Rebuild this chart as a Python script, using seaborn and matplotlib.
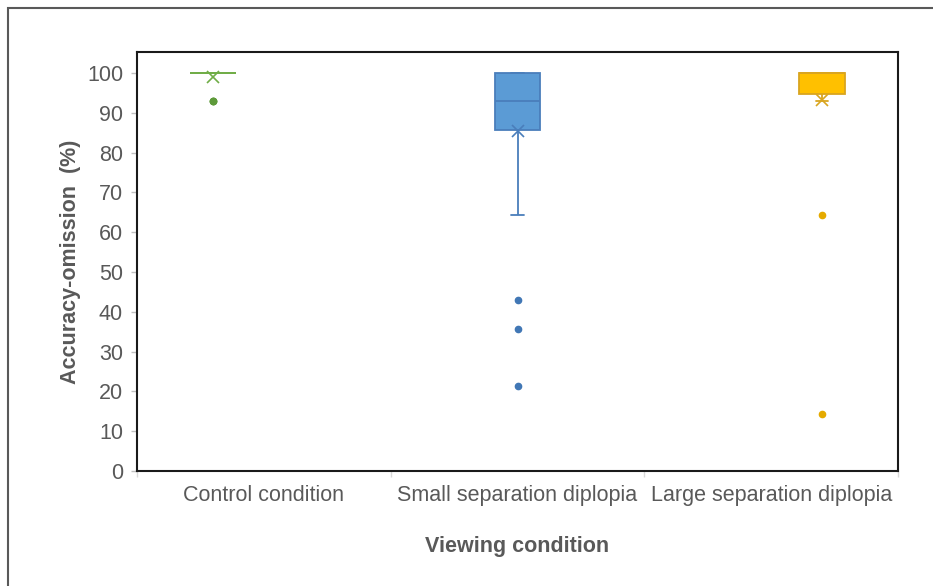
import numpy as np
import pandas as pd
import seaborn as sns
import matplotlib
matplotlib.use("Agg")
import matplotlib.pyplot as plt
from matplotlib.patches import Rectangle

# ---- data (accuracy-omission, %) ----
conditions = ["Control condition", "Small separation diplopia", "Large separation diplopia"]
control_vals = [92.9] * 3 + [100.0] * 19
small_vals = [21.4, 35.7, 42.9, 64.3] + [85.7] * 3 + [92.9] * 6 + [100.0] * 9
large_vals = [14.3, 64.3] + [92.9] * 4 + [100.0] * 16
yticks = list(range(0, 101, 10))

fills = ["#70AD47", "#5B9BD5", "#FFC000"]
lines = ["#70AD47", "#4A7EBB", "#D9A520"]
dots = ["#5E9A3A", "#4177B5", "#E5AA00"]

df = pd.DataFrame({
    "cond": [conditions[0]] * len(control_vals) + [conditions[1]] * len(small_vals)
            + [conditions[2]] * len(large_vals),
    "val": control_vals + small_vals + large_vals,
})

sns.set_theme(style="white")
plt.rcParams["font.family"] = ["Liberation Sans", "DejaVu Sans"]
text_col = "#595959"

fig = plt.figure(figsize=(9.33, 5.86), dpi=100)
ax = fig.add_axes([137 / 933, 1 - 471 / 586, (898 - 137) / 933, (471 - 52) / 586])

sns.boxplot(data=df, x="cond", y="val", hue="cond", order=conditions, hue_order=conditions,
            dodge=True, width=0.6, gap=0.1, palette=fills, legend=False,
            showmeans=True, whis=1.5, capwidths=0.05, ax=ax)

for i, cont in enumerate(ax.containers):
    lc, fc, dc = lines[i], fills[i], dots[i]
    for b in cont.boxes:
        b.set_facecolor(fc)
        b.set_edgecolor(lc)
        b.set_linewidth(1.3)
    for m in cont.medians:
        m.set_color(lc)
        m.set_linewidth(1.3)
    for w in list(cont.whiskers) + list(cont.caps):
        w.set_color(lc)
        w.set_linewidth(1.3)
    for f in cont.fliers:
        f.set_marker("o")
        f.set_markerfacecolor(dc)
        f.set_markeredgecolor(dc)
        f.set_markersize(4.5)
    for mn in cont.means:
        mn.set_marker("x")
        mn.set_markerfacecolor(lc)
        mn.set_markeredgecolor(lc)
        mn.set_markersize(8)
        mn.set_markeredgewidth(1.2)

ax.set_xlim(-0.5, 2.5)
ax.set_ylim(0, 105.3)
ax.set_yticks(yticks)
ax.set_yticklabels([str(t) for t in yticks])
ax.set_xticks(range(3))
ax.set_xticklabels(conditions)
ax.set_xticks([-0.5, 0.5, 1.5, 2.5], minor=True)

ax.tick_params(axis="y", which="major", length=4, width=1, color="#BFBFBF", left=True,
               labelsize=15.5, labelcolor=text_col, pad=6)
ax.tick_params(axis="x", which="major", length=0, labelsize=15.5, labelcolor=text_col, pad=10)
ax.tick_params(axis="x", which="minor", length=4, width=1, color="#D9D9D9", bottom=True)

for s in ax.spines.values():
    s.set_visible(True)
    s.set_color("#1A1A1A")
    s.set_linewidth(1.5)

ax.set_xlabel("Viewing condition", fontsize=15.5, fontweight="bold", color=text_col, labelpad=22)
ax.set_ylabel("Accuracy-omission  (%)", fontsize=15.5, fontweight="bold", color=text_col, labelpad=4)

# outer frame clipped by the image edges
fig.patches.append(Rectangle((8 / 933, -0.5), 2.0, 0.5 + 1 - 8 / 586, transform=fig.transFigure,
                             fill=False, edgecolor="#595959", linewidth=1.5, zorder=0))

fig.savefig("out.png", dpi=100, facecolor="white")
